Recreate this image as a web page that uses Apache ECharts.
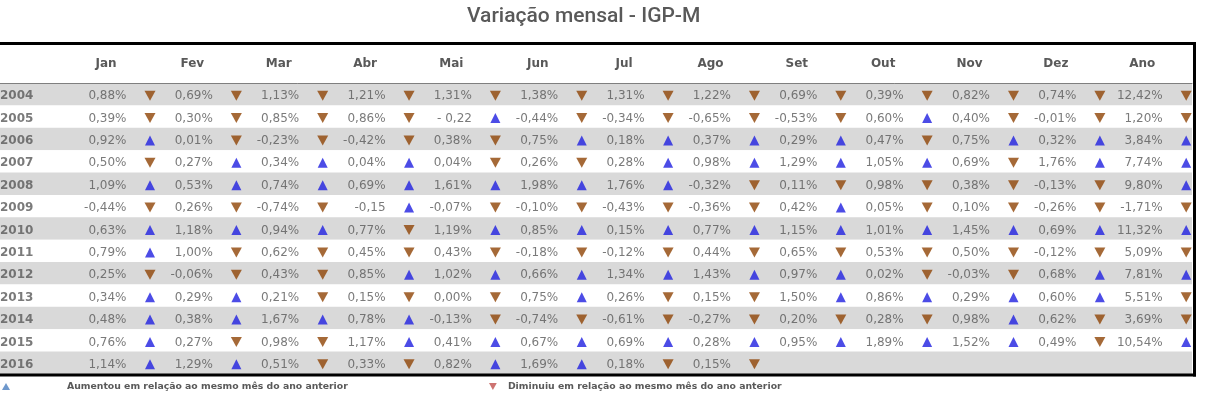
<!DOCTYPE html>
<html><head><meta charset="utf-8">
<script src="https://cdn.jsdelivr.net/npm/echarts@6/dist/echarts.min.js"></script>
<style>html,body{margin:0;padding:0;background:#fff}#c{width:1208px;height:403px}</style>
</head><body><div id="c"></div><script>
// ---- data ----
const title = 'Variação mensal - IGP-M';
const years = ['2004','2005','2006','2007','2008','2009','2010','2011','2012','2013','2014','2015','2016'];
const columns = ['Jan','Fev','Mar','Abr','Mai','Jun','Jul','Ago','Set','Out','Nov','Dez','Ano'];
const v2004 = [0.88,0.69,1.13,1.21,1.31,1.38,1.31,1.22,0.69,0.39,0.82,0.74,12.42];
const v2005 = [0.39,0.30,0.85,0.86,-0.22,-0.44,-0.34,-0.65,-0.53,0.60,0.40,-0.01,1.20];
const v2006 = [0.92,0.01,-0.23,-0.42,0.38,0.75,0.18,0.37,0.29,0.47,0.75,0.32,3.84];
const v2007 = [0.50,0.27,0.34,0.04,0.04,0.26,0.28,0.98,1.29,1.05,0.69,1.76,7.74];
const v2008 = [1.09,0.53,0.74,0.69,1.61,1.98,1.76,-0.32,0.11,0.98,0.38,-0.13,9.80];
const v2009 = [-0.44,0.26,-0.74,-0.15,-0.07,-0.10,-0.43,-0.36,0.42,0.05,0.10,-0.26,-1.71];
const v2010 = [0.63,1.18,0.94,0.77,1.19,0.85,0.15,0.77,1.15,1.01,1.45,0.69,11.32];
const v2011 = [0.79,1.00,0.62,0.45,0.43,-0.18,-0.12,0.44,0.65,0.53,0.50,-0.12,5.09];
const v2012 = [0.25,-0.06,0.43,0.85,1.02,0.66,1.34,1.43,0.97,0.02,-0.03,0.68,7.81];
const v2013 = [0.34,0.29,0.21,0.15,0.00,0.75,0.26,0.15,1.50,0.86,0.29,0.60,5.51];
const v2014 = [0.48,0.38,1.67,0.78,-0.13,-0.74,-0.61,-0.27,0.20,0.28,0.98,0.62,3.69];
const v2015 = [0.76,0.27,0.98,1.17,0.41,0.67,0.69,0.28,0.95,1.89,1.52,0.49,10.54];
const v2016 = [1.14,1.29,0.51,0.33,0.82,1.69,0.18,0.15,null,null,null,null,null];
// 1 = aumentou (▲), -1 = diminuiu (▼), 0 = sem ícone
const d2004 = [-1,-1,-1,-1,-1,-1,-1,-1,-1,-1,-1,-1,-1];
const d2005 = [-1,-1,-1,-1,1,-1,-1,-1,-1,1,-1,-1,-1];
const d2006 = [1,-1,-1,-1,-1,1,1,1,1,-1,1,1,1];
const d2007 = [-1,1,1,1,-1,-1,1,1,1,1,-1,1,1];
const d2008 = [1,1,1,1,1,1,1,-1,-1,-1,-1,-1,1];
const d2009 = [-1,-1,-1,1,-1,-1,-1,-1,1,-1,-1,-1,-1];
const d2010 = [1,1,1,-1,1,1,1,1,1,1,1,1,1];
const d2011 = [1,-1,-1,-1,-1,-1,-1,-1,-1,-1,-1,-1,-1];
const d2012 = [-1,-1,-1,1,1,1,1,1,1,-1,-1,1,1];
const d2013 = [1,1,-1,-1,-1,1,-1,-1,1,1,1,1,-1];
const d2014 = [1,1,1,1,-1,-1,-1,-1,-1,-1,1,-1,-1];
const d2015 = [1,-1,-1,1,1,1,1,1,1,1,1,-1,1];
const d2016 = [1,1,-1,-1,1,1,-1,-1,0,0,0,0,0];
// textos que aparecem fora do formato padrão
const labelOverrides = {'2005-4': '- 0,22', '2009-3': '-0,15'};
const upName = 'Aumentou em relação ao mesmo mês do ano anterior';
const downName = 'Diminuiu em relação ao mesmo mês do ano anterior';

const rows = [v2004,v2005,v2006,v2007,v2008,v2009,v2010,v2011,v2012,v2013,v2014,v2015,v2016];
const dirs = [d2004,d2005,d2006,d2007,d2008,d2009,d2010,d2011,d2012,d2013,d2014,d2015,d2016];

// ---- layout ----
const PITCH = 86.35, GRID_W = 1192;
const HEAD_OFF = 106 / PITCH, VAL_OFF = 126.5 / PITCH, TRI_OFF = 150 / PITCH;
const X_MAX = GRID_W / PITCH;
const fmt = v => v.toFixed(2).replace('.', ',') + '%';

const valueData = [], upData = [], downData = [];
years.forEach((y, r) => {
  rows[r].forEach((v, c) => {
    if (v !== null) valueData.push([c + VAL_OFF, r, labelOverrides[y + '-' + c] || fmt(v)]);
    const d = dirs[r][c];
    if (d === 1) upData.push([c + TRI_OFF, r]);
    else if (d === -1) downData.push([c + TRI_OFF, r]);
  });
});
const yearData = years.map((y, r) => [0, r, y]);

const FONT = 'DejaVu Sans';
const GREY = '#595959';
const DOWN_PATH = 'path://M0,0L10,0L5,9Z';
const border = (x1, y1, x2, y2) => ({type: 'line', z: 100, silent: true,
  shape: {x1, y1, x2, y2}, style: {stroke: '#000', lineWidth: 3}});
const chart = echarts.init(document.getElementById('c'), null, {renderer: 'canvas'});
chart.setOption({
  animation: false,
  backgroundColor: '#ffffff',
  title: {text: title, left: 467, top: 6, padding: 0,
    textStyle: {fontFamily: 'Roboto', fontSize: 21, fontWeight: 500, color: GREY}},
  legend: [
    {data: [{name: upName, icon: 'triangle', itemStyle: {color: '#4a7ebf'}}],
     left: 2, top: 382, padding: 0, itemWidth: 8, itemHeight: 7, selectedMode: false,
     textStyle: {fontFamily: FONT, fontSize: 9.3, fontWeight: 'bold', color: GREY, padding: [0,0,0,52]}},
    {data: [{name: downName, icon: DOWN_PATH, itemStyle: {color: '#c0504d'}}],
     left: 489, top: 382, padding: 0, itemWidth: 8, itemHeight: 7, selectedMode: false,
     textStyle: {fontFamily: FONT, fontSize: 9.3, fontWeight: 'bold', color: GREY, padding: [0,0,0,6]}}
  ],
  grid: {left: 0, right: 1208 - GRID_W, top: 83, bottom: 403 - 374,
    containLabel: false, outerBoundsMode: 'none'},
  xAxis: [
    {type: 'value', min: 0, max: X_MAX, show: false},
    {type: 'value', position: 'top', min: 0, max: X_MAX,
     axisLine: {show: true, lineStyle: {color: '#7f7f7f', width: 1}},
     axisTick: {show: false}, splitLine: {show: false},
     axisLabel: {customValues: columns.map((_, i) => i + HEAD_OFF),
       formatter: v => columns[Math.round(v - HEAD_OFF)],
       margin: 19, verticalAlign: 'middle',
       fontFamily: FONT, fontSize: 12, fontWeight: 'bold', color: GREY}}
  ],
  yAxis: {type: 'category', data: years, inverse: true,
    axisLine: {show: false}, axisTick: {show: false}, splitLine: {show: false},
    splitArea: {show: true, areaStyle: {color: ['#d9d9d9', '#ffffff']}},
    axisLabel: {show: false}},
  graphic: [
    border(0, 43.5, 1196, 43.5),
    border(1194.5, 42, 1194.5, 376.5),
    border(0, 375, 1196, 375)
  ],
  series: [
    {name: 'anos', type: 'scatter', data: yearData, symbolSize: 0, silent: true,
     label: {show: true, position: 'right', distance: 0, offset: [0, 2], formatter: p => p.data[2],
       fontFamily: FONT, fontSize: 12, fontWeight: 'bold', color: GREY}},
    {name: 'valores', type: 'scatter', data: valueData, symbolSize: 0, silent: true,
     label: {show: true, position: 'left', distance: 0, offset: [0, 2], formatter: p => p.data[2],
       fontFamily: FONT, fontSize: 12, color: GREY}},
    {name: upName, type: 'scatter', data: upData, symbol: 'triangle', symbolSize: [10, 10],
     symbolOffset: [0, 1.5], itemStyle: {color: '#1f1fe0'}, silent: true},
    {name: downName, type: 'scatter', data: downData, symbol: DOWN_PATH, symbolSize: [11, 10],
     symbolOffset: [0, 1.5], itemStyle: {color: '#8f4405'}, silent: true}
  ]
});
</script></body></html>
